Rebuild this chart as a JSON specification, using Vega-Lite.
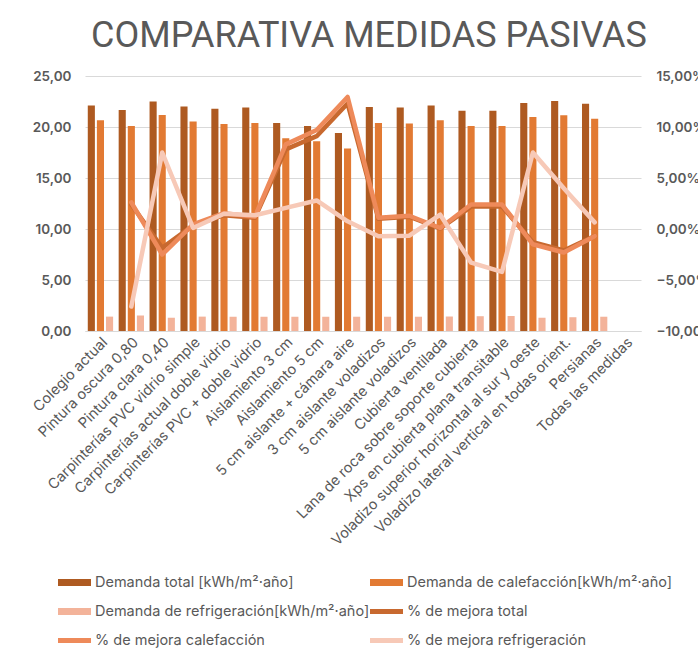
{
  "$schema": "https://vega.github.io/schema/vega-lite/v6.json",
  "width": 556,
  "height": 255,
  "padding": {"left": 30, "top": 18, "right": 5, "bottom": 5},
  "background": "white",
  "title": {"text": "COMPARATIVA MEDIDAS PASIVAS", "font": "Roboto", "fontSize": 36, "fontWeight": "normal", "color": "#595959", "anchor": "middle", "frame": "group", "dx": 6, "offset": 14},
  "config": {
    "font": "Inter",
    "view": {"stroke": null},
    "axis": {"labelColor": "#595959", "ticks": false, "title": null}
  },
  "data": {"values": [
    {"cat": "Colegio actual", "tot": 22.1, "cal": 20.65, "ref": 1.41, "mt": null, "mc": null, "mr": null},
    {"cat": "Pintura oscura 0,80", "tot": 21.66, "cal": 20.1, "ref": 1.52, "mt": 2.4, "mc": 2.6, "mr": -7.6},
    {"cat": "Pintura clara 0,40", "tot": 22.5, "cal": 21.17, "ref": 1.3, "mt": -1.85, "mc": -2.5, "mr": 7.5},
    {"cat": "Carpinterías PVC vidrio simple", "tot": 22.0, "cal": 20.55, "ref": 1.41, "mt": 0.35, "mc": 0.45, "mr": 0.1},
    {"cat": "Carpinterías actual doble vidrio", "tot": 21.8, "cal": 20.3, "ref": 1.4, "mt": 1.35, "mc": 1.55, "mr": 1.5},
    {"cat": "Carpinterías PVC + doble vidrio", "tot": 21.9, "cal": 20.4, "ref": 1.4, "mt": 1.1, "mc": 1.2, "mr": 1.35},
    {"cat": "Aislamiento 3 cm", "tot": 20.4, "cal": 18.9, "ref": 1.4, "mt": 7.8, "mc": 8.3, "mr": 2.07},
    {"cat": "Aislamiento 5 cm", "tot": 20.1, "cal": 18.6, "ref": 1.4, "mt": 9.1, "mc": 9.7, "mr": 2.8},
    {"cat": "5 cm aislante + cámara aire", "tot": 19.4, "cal": 17.9, "ref": 1.4, "mt": 12.3, "mc": 12.95, "mr": 0.75},
    {"cat": "3 cm aislante voladizos", "tot": 21.96, "cal": 20.4, "ref": 1.4, "mt": 1.0, "mc": 1.1, "mr": -0.72},
    {"cat": "5 cm aislante voladizos", "tot": 21.9, "cal": 20.35, "ref": 1.4, "mt": 1.2, "mc": 1.3, "mr": -0.66},
    {"cat": "Cubierta ventilada", "tot": 22.1, "cal": 20.65, "ref": 1.42, "mt": 0.05, "mc": 0.1, "mr": 1.4},
    {"cat": "Lana de roca sobre soporte cubierta", "tot": 21.6, "cal": 20.1, "ref": 1.45, "mt": 2.2, "mc": 2.4, "mr": -3.3},
    {"cat": "Xps en cubierta plana transitable", "tot": 21.6, "cal": 20.1, "ref": 1.47, "mt": 2.2, "mc": 2.4, "mr": -4.2},
    {"cat": "Voladizo superior horizontal al sur y oeste", "tot": 22.35, "cal": 20.97, "ref": 1.3, "mt": -1.3, "mc": -1.5, "mr": 7.5},
    {"cat": "Voladizo lateral vertical en todas orient.", "tot": 22.55, "cal": 21.14, "ref": 1.35, "mt": -2.1, "mc": -2.3, "mr": 4.0},
    {"cat": "Persianas", "tot": 22.28, "cal": 20.8, "ref": 1.4, "mt": -0.7, "mc": -0.7, "mr": 0.65},
    {"cat": "Todas las medidas", "tot": null, "cal": null, "ref": null, "mt": null, "mc": null, "mr": null}
  ]},
  "layer": [
    {
      "transform": [{"fold": ["tot", "cal", "ref"], "as": ["serie", "v"]}, {"filter": "isValid(datum.v)"}],
      "mark": {"type": "bar"},
      "encoding": {
        "x": {"field": "cat", "type": "nominal", "sort": null,
          "scale": {"domain": ["Colegio actual", "Pintura oscura 0,80", "Pintura clara 0,40", "Carpinterías PVC vidrio simple", "Carpinterías actual doble vidrio", "Carpinterías PVC + doble vidrio", "Aislamiento 3 cm", "Aislamiento 5 cm", "5 cm aislante + cámara aire", "3 cm aislante voladizos", "5 cm aislante voladizos", "Cubierta ventilada", "Lana de roca sobre soporte cubierta", "Xps en cubierta plana transitable", "Voladizo superior horizontal al sur y oeste", "Voladizo lateral vertical en todas orient.", "Persianas", "Todas las medidas"], "paddingInner": 0.18, "paddingOuter": 0.09},
          "axis": {"labelAngle": -45, "labelFontSize": 14.5, "labelLimit": 400, "labelPadding": 4, "domain": true, "domainColor": "#d9d9d9", "grid": false}},
        "xOffset": {"field": "serie", "type": "nominal", "scale": {"domain": ["tot", "cal", "ref"], "paddingInner": 0.22}},
        "y": {"field": "v", "type": "quantitative", "scale": {"domain": [0, 25]},
          "axis": {"values": [0, 5, 10, 15, 20, 25], "labelExpr": "replace(format(datum.value, '.2f'), '.', ',')", "labelFontSize": 13.5, "labelFontWeight": 600, "labelPadding": 14, "domain": false, "grid": true, "gridColor": "#d9d9d9"}},
        "color": {"field": "serie", "type": "nominal",
          "scale": {"domain": ["tot", "cal", "ref", "mt", "mc", "mr"], "range": ["#AE5A21", "#E27A33", "#F3B39A", "#C8692F", "#EE8A5A", "#F7C9B7"]},
          "legend": {"title": null, "orient": "none", "legendX": -27, "legendY": 490, "columns": 2, "columnPadding": -12, "rowPadding": 6,
            "values": ["tot", "ref", "mc", "cal", "mt", "mr"],
            "symbolType": "M-1,-0.21H1V0.21H-1Z", "symbolSize": 1089, "symbolStrokeWidth": 0,
            "labelFontSize": 14.5, "labelColor": "#595959", "labelOffset": 4, "labelLimit": 400,
            "labelExpr": "{'tot': 'Demanda total [kWh/m²·año]', 'cal': 'Demanda de calefacción[kWh/m²·año]', 'ref': 'Demanda de refrigeración[kWh/m²·año]', 'mt': '% de mejora total', 'mc': '% de mejora calefacción', 'mr': '% de mejora refrigeración'}[datum.label]",
            "encode": {"symbols": {"update": {
              "shape": {"signal": "indexof(['mt','mc','mr'], datum.value) >= 0 ? 'M-1,-0.15H1V0.15H-1Z' : 'M-1,-0.21H1V0.21H-1Z'"},
              "fill": {"signal": "scale('color', datum.value)"},
              "opacity": {"value": 1}
            }}}}
        }
      }
    },
    {
      "transform": [{"fold": ["mt", "mc", "mr"], "as": ["serie", "p"]}, {"filter": "isValid(datum.p)"}],
      "mark": {"type": "line", "strokeWidth": 4.5, "strokeCap": "round", "strokeJoin": "round"},
      "encoding": {
        "x": {"field": "cat", "type": "nominal", "sort": null},
        "y": {"field": "p", "type": "quantitative", "scale": {"domain": [-10, 15]},
          "axis": {"orient": "right", "values": [-10, -5, 0, 5, 10, 15], "labelExpr": "replace(format(datum.value, '.2f'), '.', ',') + '%'", "labelFontSize": 13.5, "labelFontWeight": 600, "labelPadding": 15, "domain": false, "grid": false}},
        "color": {"field": "serie", "type": "nominal"}
      }
    }
  ],
  "resolve": {"scale": {"y": "independent"}}
}
